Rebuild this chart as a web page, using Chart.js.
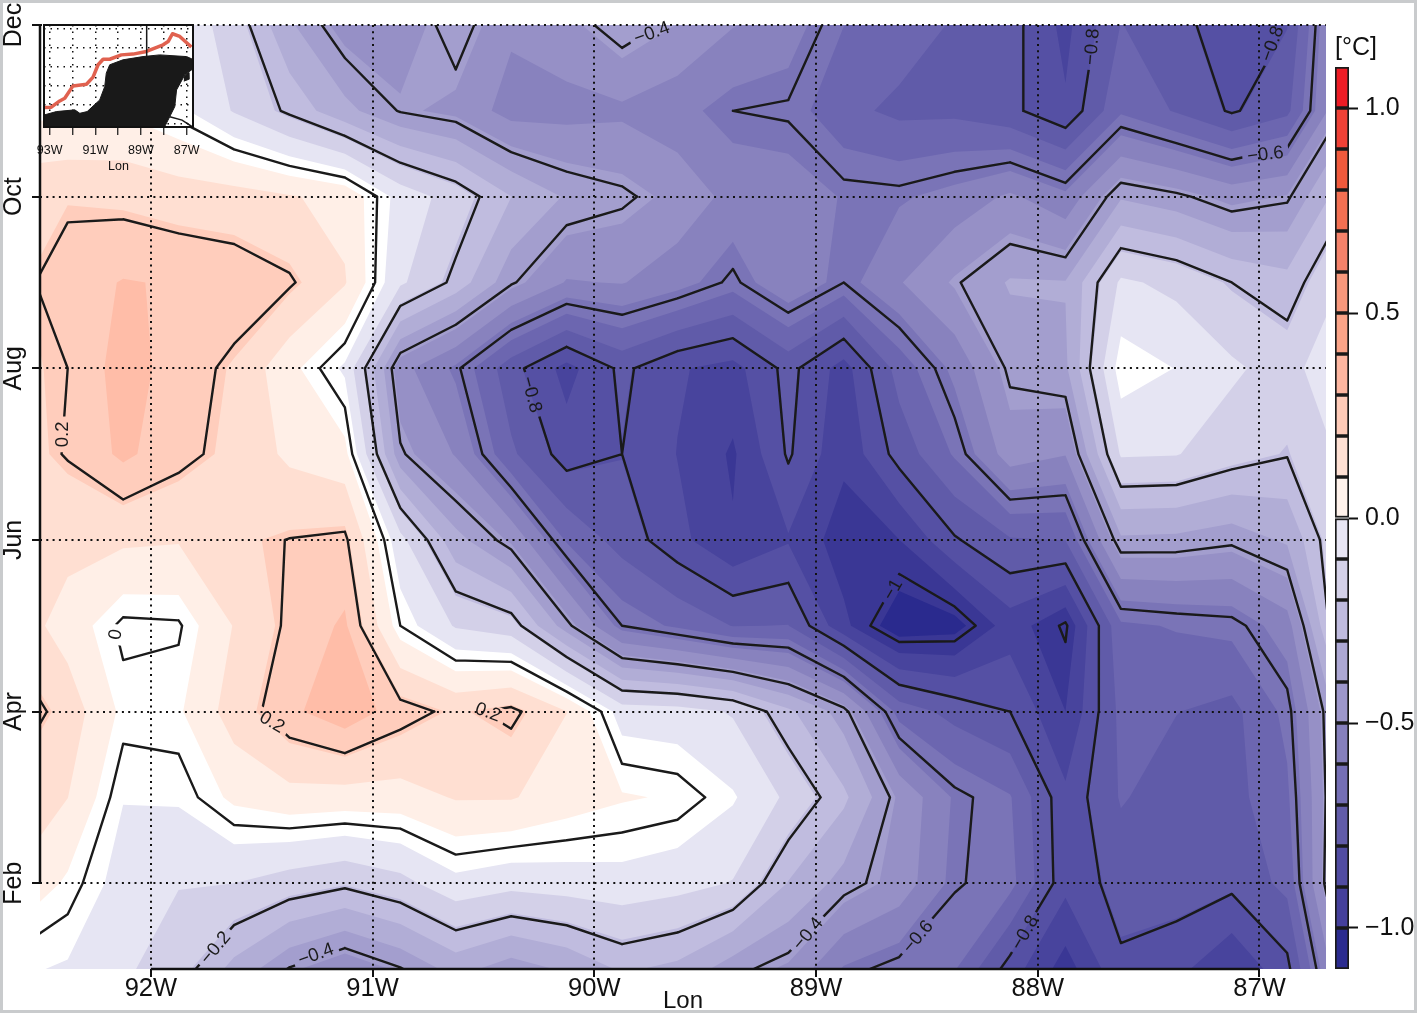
<!DOCTYPE html>
<html>
<head>
<meta charset="utf-8">
<title>Lon-month temperature anomaly</title>
<script src="https://cdn.jsdelivr.net/npm/chart.js@4/dist/chart.umd.min.js"></script>
<style>
    html, body { margin: 0; padding: 0; background: #fff; }
    body { width: 1417px; height: 1013px; overflow: hidden; position: relative; }
    canvas { position: absolute; }
    #frame { position: absolute; left: 0; top: 0; width: 1411px; height: 1007px; border: 3px solid #c9cbcd; pointer-events: none; }
</style>
</head>
<body>
<canvas id="mainChart" width="1417" height="1013" style="left:0;top:0"></canvas>
<canvas id="insetChart" width="210" height="180" style="left:0;top:0"></canvas>
<canvas id="barChart" width="97" height="1013" style="left:1320px;top:0"></canvas>
<div id="frame"></div>
<script>
// grid nodes of the field (0.25 deg), first and last sit just outside the plot
const lonNodes = [-92.625, -92.375, -92.125, -91.875, -91.625, -91.375, -91.125, -90.875, -90.625, -90.375, -90.125, -89.875, -89.625, -89.375, -89.125, -88.875, -88.625, -88.375, -88.125, -87.875, -87.625, -87.375, -87.125, -86.875, -86.625];
const monthNodes = [1, 2, 3, 4, 5, 6, 7, 8, 9, 10, 11, 12];

// anomaly per month
const tempJan = [-0.026, -0.046, -0.10, -0.16, -0.29, -0.405, -0.47, -0.405, -0.315, -0.38, -0.33, -0.255, -0.285, -0.382, -0.43, -0.578, -0.625, -0.64, -0.834, -0.985, -0.813, -0.85, -0.94, -0.823, -0.40];
const tempFeb = [0.108, 0.026, -0.07, -0.11, -0.114, -0.152, -0.183, -0.14, -0.06, -0.087, -0.075, -0.065, -0.085, -0.118, -0.27, -0.37, -0.445, -0.595, -0.62, -0.85, -0.77, -0.76, -0.78, -0.70, -0.25];
const tempMar = [0.17, 0.115, -0.035, -0.029, 0.054, 0.086, 0.08, 0.08, 0.12, 0.12, 0.075, 0.045, 0.03, -0.03, -0.13, -0.25, -0.43, -0.58, -0.64, -0.855, -0.715, -0.76, -0.75, -0.66, -0.285];
const tempApr = [0.27, 0.158, 0.021, 0.028, 0.15, 0.25, 0.313, 0.232, 0.18, 0.22, 0.115, -0.07, -0.08, -0.121, -0.25, -0.375, -0.675, -0.75, -0.80, -0.949, -0.70, -0.72, -0.745, -0.625, -0.28];
const tempMay = [0.163, 0.08, -0.014, -0.008, 0.118, 0.215, 0.278, 0.0, -0.122, -0.16, -0.38, -0.60, -0.66, -0.725, -0.72, -0.93, -1.076, -1.055, -0.91, -1.012, -0.66, -0.64, -0.624, -0.53, -0.09];
const tempJun = [0.15, 0.14, 0.128, 0.12, 0.178, 0.202, 0.215, -0.088, -0.317, -0.43, -0.655, -0.755, -0.85, -0.94, -0.88, -0.99, -0.95, -0.809, -0.73, -0.72, -0.355, -0.36, -0.385, -0.33, -0.11];
const tempJul = [0.16, 0.205, 0.281, 0.2225, 0.1725, 0.098, 0.06, -0.39, -0.50, -0.708, -0.835, -0.80, -0.875, -0.96, -0.79, -0.93, -0.77, -0.637, -0.453, -0.49, -0.105, -0.11, -0.16, -0.195, -0.10];
const tempAug = [0.177, 0.20, 0.30, 0.235, 0.183, 0.06, -0.05, -0.465, -0.585, -0.77, -0.90, -0.782, -0.865, -0.90, -0.775, -0.905, -0.69, -0.55, -0.385, -0.355, -0.001, -0.04, -0.10, -0.15, -0.03];
const tempSep = [0.175, 0.235, 0.27, 0.26, 0.243, 0.21, 0.12, -0.10, -0.22, -0.39, -0.50, -0.49, -0.54, -0.615, -0.505, -0.60, -0.50, -0.408, -0.335, -0.338, -0.10, -0.135, -0.20, -0.24, -0.11];
const tempOct = [0.165, 0.185, 0.175, 0.155, 0.147, 0.12, 0.092, -0.066, -0.15, -0.265, -0.35, -0.385, -0.44, -0.52, -0.53, -0.575, -0.58, -0.543, -0.48, -0.55, -0.35, -0.385, -0.442, -0.412, -0.22];
const tempNov = [0.02, 0.02, 0.03, -0.02, -0.12, -0.215, -0.32, -0.405, -0.437, -0.525, -0.522, -0.51, -0.545, -0.60, -0.61, -0.70, -0.74, -0.74, -0.78, -0.8625, -0.658, -0.73, -0.81, -0.742, -0.40];
const tempDec = [0.0, 0.0, -0.02, -0.06, -0.15, -0.33, -0.45, -0.47, -0.36, -0.48, -0.44, -0.36, -0.42, -0.49, -0.53, -0.645, -0.68, -0.73, -0.77, -0.895, -0.72, -0.76, -0.87, -0.80, -0.41];
const tempRows = [tempJan, tempFeb, tempMar, tempApr, tempMay, tempJun, tempJul, tempAug, tempSep, tempOct, tempNov, tempDec];

// filled bands of the map, bandColors[0] is everything below bandLevels[0]
const bandLevels = [-1.025, -0.949, -0.873, -0.797, -0.722, -0.646, -0.57, -0.494, -0.418, -0.342, -0.266, -0.19, -0.114, -0.038, 0.038, 0.114, 0.19, 0.266];
const bandColors = ['#2a2a8e', '#3a3795', '#48449d', '#5550a4', '#605ba9', '#6c66b0', '#7a74b7', '#8882be', '#9690c6', '#a39ece', '#b1add6', '#c0bcdf', '#d3d0e8', '#e6e5f3', '#ffffff', '#ffefe7', '#ffdfd2', '#ffcdbc', '#ffbda8'];
const contourLevels = [-1, -0.8, -0.6, -0.4, -0.2, 0, 0.2];

// contour labels: lon, month, text, angle in degrees
const labelLons = [-92.397, -92.158, -91.454, -90.48, -91.707, -91.255, -89.74, -90.285, -87.754, -86.94, -86.973, -88.652, -89.035, -88.539, -88.056];
const labelMonths = [7.230, 4.898, 3.872, 3.988, 1.245, 1.163, 11.902, 7.693, 11.746, 11.780, 10.487, 5.417, 1.408, 1.373, 1.420];
const labelTexts = ['0.2', '0', '0.2', '0.2', '\u22120.2', '\u22120.4', '\u22120.4', '\u22120.8', '\u22120.8', '\u22120.8', '\u22120.6', '\u22121', '\u22120.4', '\u22120.6', '\u22120.8'];
const labelAngles = [-90, -80, 30, 20, -50, -20, -20, 75, -85, -70, -7, -60, -50, -50, -60];

// axes
const lonTicks = [-92, -91, -90, -89, -88, -87];
const monthTicks = [2, 4, 6, 8, 10, 12];
const monthTickNames = ['Feb', 'Apr', 'Jun', 'Aug', 'Oct', 'Dec'];

// colour bar
const barLows = [-1.1, -1.0, -0.9, -0.8, -0.7, -0.6, -0.5, -0.4, -0.3, -0.2, -0.1, 0.0, 0.1, 0.2, 0.3, 0.4, 0.5, 0.6, 0.7, 0.8, 0.9, 1.0];
const barHighs = [-1.0, -0.9, -0.8, -0.7, -0.6, -0.5, -0.4, -0.3, -0.2, -0.1, 0.0, 0.1, 0.2, 0.3, 0.4, 0.5, 0.6, 0.7, 0.8, 0.9, 1.0, 1.1];
const barColors = ['#2b2b8f', '#45409b', '#514ca2', '#625ca9', '#756fb5', '#8680bc', '#9d97cb', '#ada8d4', '#bfbbde', '#d4d1e8', '#e8e6f4', '#fff2eb', '#ffe0d3', '#ffcbb8', '#fdb6a0', '#fba488', '#f8987c', '#f5826a', '#f37052', '#f15a3c', '#ef4136', '#ee1c25'];
const barTicks = [-1, -0.5, 0, 0.5, 1];

// inset map
const trackLon = [-93.22, -92.93, -92.56, -92.34, -91.98, -91.39, -91.10, -90.88, -90.66, -90.37, -89.86, -89.35, -88.76, -88.03, -87.81, -87.62, -87.30, -86.79];
const trackLat = [20.86, 20.88, 21.21, 21.35, 22.0, 22.09, 22.46, 23.11, 23.40, 23.40, 23.63, 23.67, 23.81, 24.16, 24.33, 24.74, 24.60, 24.04];
const landLon = [-93.25, -92.71, -91.90, -91.68, -91.36, -90.81, -90.59, -90.52, -90.37, -89.79, -88.91, -88.18, -87.0, -86.74, -86.74, -87.08, -87.44, -87.52, -87.74, -87.96, -93.25];
const landLat = [20.47, 20.65, 20.74, 20.56, 20.65, 21.26, 21.96, 22.67, 23.11, 23.37, 23.54, 23.63, 23.54, 23.40, 22.88, 22.58, 21.79, 20.91, 20.38, 19.86, 19.8];
const lagoonLon = [-91.68, -91.36, -91.25, -91.60];
const lagoonLat = [20.60, 20.76, 20.62, 20.47];
const bayLon = [-88.18, -88.02, -87.90, -87.98, -88.12];
const bayLat = [20.75, 20.40, 20.15, 19.84, 20.30];
const islandLon = [-87.12, -86.92, -86.90, -87.12];
const islandLat = [22.48, 22.70, 22.35, 22.25];
const borderLon = [-87.74, -87.20, -86.74];
const borderLat = [20.38, 20.20, 19.84];
const insetLonTicks = [-93, -92, -91, -90, -89, -88, -87];
const insetLatTicks = [20, 21, 22, 23, 24, 25];
const insetGridLon = -88.75;

const fontName = '"Liberation Sans", Arial, sans-serif';

// part of one grid cell where the field is >= level
function cellPolygon(cx, cy, cv, level) {
    let pts = [];
    for (let n = 0; n < 4; n++) {
        let m = (n + 1) % 4;
        if (cv[n] >= level) pts.push([cx[n], cy[n]]);
        if ((cv[n] >= level) !== (cv[m] >= level)) {
            let t = (level - cv[n]) / (cv[m] - cv[n]);
            pts.push([cx[n] + t * (cx[m] - cx[n]), cy[n] + t * (cy[m] - cy[n])]);
        }
    }
    return pts;
}

// contour segments of every level, NaN points break the line
function contourPoints() {
    let out = [];
    contourLevels.forEach(level => {
        for (let j = 0; j < monthNodes.length - 1; j++) {
            for (let i = 0; i < lonNodes.length - 1; i++) {
                let cx = [lonNodes[i], lonNodes[i + 1], lonNodes[i + 1], lonNodes[i]];
                let cy = [monthNodes[j], monthNodes[j], monthNodes[j + 1], monthNodes[j + 1]];
                let cv = [tempRows[j][i], tempRows[j][i + 1], tempRows[j + 1][i + 1], tempRows[j + 1][i]];
                let cross = [];
                for (let n = 0; n < 4; n++) {
                    let m = (n + 1) % 4;
                    if ((cv[n] >= level) !== (cv[m] >= level)) {
                        let t = (level - cv[n]) / (cv[m] - cv[n]);
                        cross.push({ x: cx[n] + t * (cx[m] - cx[n]), y: cy[n] + t * (cy[m] - cy[n]) });
                    }
                }
                if (cross.length === 2) {
                    out.push(cross[0], cross[1], { x: NaN, y: NaN });
                } else if (cross.length === 4) {
                    let mean = (cv[0] + cv[1] + cv[2] + cv[3]) / 4;
                    if ((mean >= level) === (cv[0] >= level)) {
                        out.push(cross[0], cross[1], { x: NaN, y: NaN }, cross[2], cross[3], { x: NaN, y: NaN });
                    } else {
                        out.push(cross[3], cross[0], { x: NaN, y: NaN }, cross[1], cross[2], { x: NaN, y: NaN });
                    }
                }
            }
        }
    });
    return out;
}

const bandsPlugin = {
    id: 'bands',
    beforeDatasetsDraw(chart) {
        const ctx = chart.ctx, a = chart.chartArea, xs = chart.scales.x, ys = chart.scales.y;
        ctx.save();
        ctx.beginPath();
        ctx.rect(a.left, a.top, a.right - a.left, a.bottom - a.top);
        ctx.clip();
        ctx.fillStyle = bandColors[0];
        ctx.fillRect(a.left, a.top, a.right - a.left, a.bottom - a.top);
        bandLevels.forEach((level, k) => {
            ctx.beginPath();
            for (let j = 0; j < monthNodes.length - 1; j++) {
                for (let i = 0; i < lonNodes.length - 1; i++) {
                    let cx = [i, i + 1, i + 1, i].map(n => xs.getPixelForValue(lonNodes[n]));
                    let cy = [j, j, j + 1, j + 1].map(n => ys.getPixelForValue(monthNodes[n]));
                    let cv = [tempRows[j][i], tempRows[j][i + 1], tempRows[j + 1][i + 1], tempRows[j + 1][i]];
                    let pts = cellPolygon(cx, cy, cv, level);
                    if (pts.length < 3) continue;
                    ctx.moveTo(pts[0][0], pts[0][1]);
                    for (let p = 1; p < pts.length; p++) ctx.lineTo(pts[p][0], pts[p][1]);
                    ctx.closePath();
                }
            }
            ctx.fillStyle = bandColors[k + 1];
            ctx.fill();
        });
        ctx.restore();
    }
};

const labelFont = '18.5px ' + fontName;

const contourLabelPlugin = {
    id: 'contourLabels',
    // leave gaps in the lines where the labels sit
    beforeDatasetDraw(chart) {
        const ctx = chart.ctx, xs = chart.scales.x, ys = chart.scales.y;
        ctx.save();
        ctx.font = labelFont;
        ctx.beginPath();
        ctx.rect(0, 0, chart.width, chart.height);
        labelTexts.forEach((text, n) => {
            let px = xs.getPixelForValue(labelLons[n]), py = ys.getPixelForValue(labelMonths[n]);
            let w = ctx.measureText(text).width / 2 + 5, h = 9;
            let c = Math.cos(labelAngles[n] * Math.PI / 180), s = Math.sin(labelAngles[n] * Math.PI / 180);
            ctx.moveTo(px - w * c + h * s, py - w * s - h * c);
            ctx.lineTo(px + w * c + h * s, py + w * s - h * c);
            ctx.lineTo(px + w * c - h * s, py + w * s + h * c);
            ctx.lineTo(px - w * c - h * s, py - w * s + h * c);
            ctx.closePath();
        });
        ctx.clip('evenodd');
    },
    afterDatasetDraw(chart) {
        chart.ctx.restore();
    },
    afterDatasetsDraw(chart) {
        const ctx = chart.ctx, xs = chart.scales.x, ys = chart.scales.y;
        ctx.save();
        ctx.font = labelFont;
        ctx.fillStyle = '#1a1a1a';
        ctx.textAlign = 'center';
        ctx.textBaseline = 'middle';
        labelTexts.forEach((text, n) => {
            ctx.save();
            ctx.translate(xs.getPixelForValue(labelLons[n]), ys.getPixelForValue(labelMonths[n]));
            ctx.rotate(labelAngles[n] * Math.PI / 180);
            ctx.fillText(text, 0, 0);
            ctx.restore();
        });
        ctx.restore();
    },
    // R style axis lines between first and last tick, rotated month names
    afterDraw(chart) {
        const ctx = chart.ctx, a = chart.chartArea, xs = chart.scales.x, ys = chart.scales.y;
        ctx.save();
        ctx.strokeStyle = '#111';
        ctx.lineWidth = 2.5;
        ctx.beginPath();
        ctx.moveTo(xs.getPixelForValue(lonTicks[0]), a.bottom);
        ctx.lineTo(xs.getPixelForValue(lonTicks[lonTicks.length - 1]), a.bottom);
        ctx.moveTo(a.left, ys.getPixelForValue(monthTicks[0]));
        ctx.lineTo(a.left, ys.getPixelForValue(monthTicks[monthTicks.length - 1]));
        ctx.stroke();
        ctx.fillStyle = '#111';
        ctx.font = '25px ' + fontName;
        ctx.textAlign = 'center';
        ctx.textBaseline = 'middle';
        monthTicks.forEach((m, n) => {
            ctx.save();
            ctx.translate(14, ys.getPixelForValue(m));
            ctx.rotate(-Math.PI / 2);
            ctx.fillText(monthTickNames[n], 0, 0);
            ctx.restore();
        });
        ctx.restore();
    }
};

let mainChart = new Chart(document.getElementById('mainChart'), {
    type: 'scatter',
    data: {
        datasets: [{
            data: contourPoints(),
            showLine: true,
            spanGaps: false,
            borderColor: '#1a1a1a',
            borderWidth: 2.4,
            borderCapStyle: 'round',
            pointRadius: 0,
            pointHitRadius: 0
        }]
    },
    options: {
        responsive: false,
        animation: false,
        layout: { padding: { top: 25, right: 91 } },
        plugins: { legend: { display: false }, tooltip: { enabled: false } },
        scales: {
            x: {
                type: 'linear',
                min: -92.5,
                max: -86.7,
                afterBuildTicks: s => { s.ticks = lonTicks.map(v => ({ value: v })); },
                afterFit: s => { s.height = 44; },
                border: { display: false, dash: [2, 4.3] },
                grid: { z: 1, color: '#111', lineWidth: 2, tickColor: '#111', tickWidth: 2, tickBorderDash: [], tickLength: 8 },
                ticks: {
                    color: '#111',
                    padding: -3,
                    maxRotation: 0,
                    font: { family: fontName, size: 25.5 },
                    callback: v => (-v) + 'W'
                },
                title: { display: true, text: 'Lon', color: '#111', padding: { top: 0, bottom: -3 }, font: { family: fontName, size: 24 } }
            },
            y: {
                type: 'linear',
                min: 1,
                max: 12,
                afterBuildTicks: s => { s.ticks = monthTicks.map(v => ({ value: v })); },
                afterFit: s => { s.width = 40; },
                border: { display: false, dash: [2, 4.3] },
                grid: { z: 1, color: '#111', lineWidth: 2, tickColor: '#111', tickWidth: 2, tickBorderDash: [], tickLength: 8 },
                ticks: { display: false }
            }
        }
    },
    plugins: [bandsPlugin, contourLabelPlugin]
});

function pairs(xs, ys) {
    return xs.map((x, n) => ({ x: x, y: ys[n] }));
}

const insetPlugin = {
    id: 'insetBox',
    beforeDraw(chart) {
        const a = chart.chartArea;
        chart.ctx.fillStyle = '#fff';
        chart.ctx.fillRect(a.left, a.top, a.right - a.left, a.bottom - a.top);
    },
    afterDraw(chart) {
        const a = chart.chartArea;
        chart.ctx.strokeStyle = '#111';
        chart.ctx.lineWidth = 2;
        chart.ctx.strokeRect(a.left, a.top, a.right - a.left, a.bottom - a.top);
    }
};

let insetChart = new Chart(document.getElementById('insetChart'), {
    type: 'scatter',
    data: {
        datasets: [
            { data: pairs(landLon, landLat), showLine: true, fill: 'shape', backgroundColor: '#191919', borderColor: '#191919', borderWidth: 1, pointRadius: 0 },
            { data: pairs(lagoonLon, lagoonLat), showLine: true, fill: 'shape', backgroundColor: '#fff', borderColor: '#fff', borderWidth: 1, pointRadius: 0 },
            { data: pairs(bayLon, bayLat), showLine: true, fill: 'shape', backgroundColor: '#fff', borderColor: '#fff', borderWidth: 1, pointRadius: 0 },
            { data: pairs(islandLon, islandLat), showLine: true, fill: 'shape', backgroundColor: '#191919', borderColor: '#191919', borderWidth: 1, pointRadius: 0 },
            { data: pairs(borderLon, borderLat), showLine: true, borderColor: '#191919', borderWidth: 1.5, pointRadius: 0 },
            { data: [{ x: insetGridLon, y: 25.2 }, { x: insetGridLon, y: 23.5 }], showLine: true, borderColor: '#191919', borderWidth: 1.5, pointRadius: 0 },
            { data: pairs(trackLon, trackLat), showLine: true, borderColor: '#e0614f', borderWidth: 3.5, pointRadius: 0, borderJoinStyle: 'round' }
        ]
    },
    options: {
        responsive: false,
        animation: false,
        layout: { padding: { left: 44, top: 25, right: 17 } },
        plugins: { legend: { display: false }, tooltip: { enabled: false } },
        scales: {
            x: {
                type: 'linear',
                min: -93.25,
                max: -86.72,
                afterBuildTicks: s => { s.ticks = insetLonTicks.map(v => ({ value: v })); },
                afterFit: s => { s.height = 53; },
                border: { display: false, dash: [1.5, 5] },
                grid: { color: '#111', lineWidth: 1.5, tickColor: '#111', tickWidth: 1.2, tickBorderDash: [], tickLength: 8 },
                ticks: {
                    color: '#111',
                    padding: 8,
                    autoSkip: false,
                    maxRotation: 0,
                    font: { family: fontName, size: 12.5 },
                    callback: v => (v % 2 !== 0 ? (-v) + 'W' : '')
                },
                title: { display: true, text: 'Lon', color: '#111', padding: { top: 0, bottom: 6 }, font: { family: fontName, size: 12.5 } }
            },
            y: {
                type: 'linear',
                min: 19.84,
                max: 25.2,
                afterBuildTicks: s => { s.ticks = insetLatTicks.map(v => ({ value: v })); },
                afterFit: s => { s.width = 0; },
                border: { display: false, dash: [1.5, 5] },
                grid: { color: '#111', lineWidth: 1.5, drawTicks: false },
                ticks: { display: false }
            }
        }
    },
    plugins: [insetPlugin]
});

const unitPlugin = {
    id: 'unit',
    afterDraw(chart) {
        const ctx = chart.ctx;
        ctx.save();
        ctx.fillStyle = '#111';
        ctx.font = '25px ' + fontName;
        ctx.textAlign = 'center';
        ctx.textBaseline = 'middle';
        ctx.fillText('[\u00b0C]', 36, 48);
        ctx.restore();
    }
};

let barChart = new Chart(document.getElementById('barChart'), {
    type: 'bar',
    data: {
        labels: ['T'],
        datasets: barLows.map((low, n) => ({
            data: [[low, barHighs[n]]],
            backgroundColor: barColors[n],
            borderColor: '#1a1a1a',
            borderWidth: 2,
            borderSkipped: false,
            barPercentage: 1,
            categoryPercentage: 1
        }))
    },
    options: {
        responsive: false,
        animation: false,
        layout: { padding: { left: 15, top: 67, bottom: 44 } },
        plugins: { legend: { display: false }, tooltip: { enabled: false } },
        scales: {
            x: { stacked: true, display: false },
            y: {
                type: 'linear',
                position: 'right',
                min: -1.1,
                max: 1.1,
                afterBuildTicks: s => { s.ticks = barTicks.map(v => ({ value: v })); },
                afterFit: s => { s.width = 68; },
                border: { display: false },
                grid: { drawOnChartArea: false, tickColor: '#111', tickWidth: 2, tickLength: 9 },
                ticks: {
                    color: '#111',
                    padding: 7,
                    font: { family: fontName, size: 25 },
                    callback: v => (v < 0 ? '\u2212' : '') + Math.abs(v).toFixed(1)
                }
            }
        }
    },
    plugins: [unitPlugin]
});
</script>
</body>
</html>
